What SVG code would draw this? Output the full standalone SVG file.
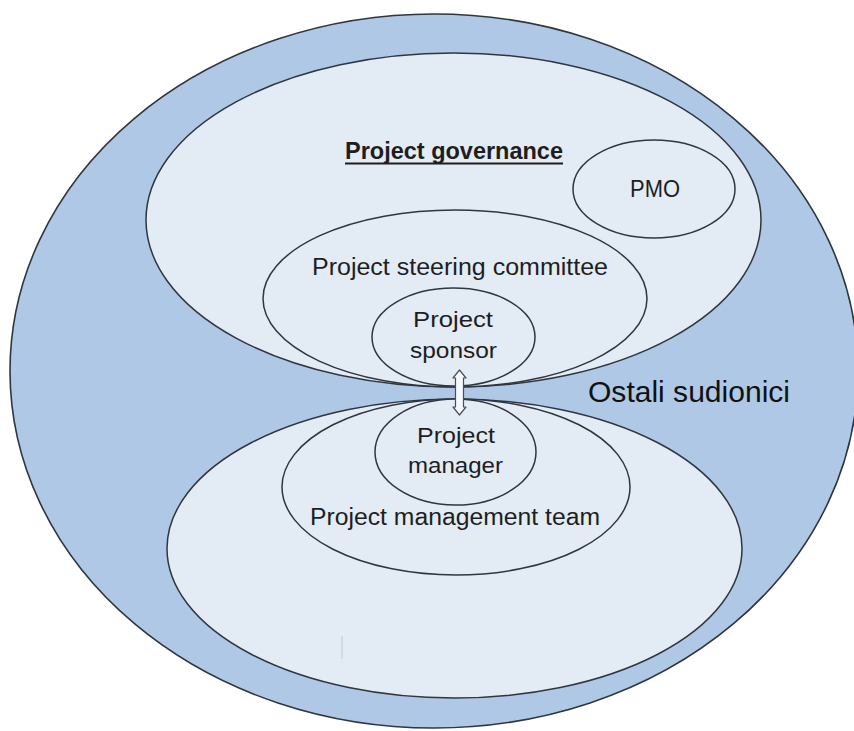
<svg xmlns="http://www.w3.org/2000/svg" width="854" height="731" viewBox="0 0 854 731">
<defs>
<style>
.ring{fill:#aec8e6;stroke:#2f3640;stroke-width:1.6}
.in{fill:#e3ebf5;stroke:#2f3640;stroke-width:1.5}
.t{font-family:"Liberation Sans Narrow","Liberation Sans",Arial,sans-serif;fill:#1e1e1e;text-anchor:middle}
.os{font-family:"Liberation Sans",Arial,sans-serif;font-size:29px;fill:#111}
</style>
</defs>
<rect width="854" height="731" fill="#ffffff"/>
<g id="ostali-sudionici">
<ellipse class="ring" cx="434" cy="371" rx="424" ry="357"/>
<text class="os" x="588" y="402" textLength="202" lengthAdjust="spacingAndGlyphs">Ostali sudionici</text>
</g>
<g id="project-governance">
<ellipse class="in" cx="453.5" cy="220" rx="307.5" ry="167"/>
<text class="t" x="454" y="159" font-size="23" font-weight="bold" textLength="218" lengthAdjust="spacingAndGlyphs">Project governance</text>
<line x1="345" y1="163.5" x2="563" y2="163.5" stroke="#1e1e1e" stroke-width="2"/>
</g>
<g id="project-management">
<ellipse class="in" cx="454.5" cy="548.5" rx="287.5" ry="149.5"/>
</g>
<g id="pmo">
<ellipse class="in" cx="654" cy="189" rx="81" ry="49"/>
<text class="t" x="655" y="197" font-size="24" textLength="50" lengthAdjust="spacingAndGlyphs">PMO</text>
</g>
<g id="steering-committee">
<ellipse class="in" cx="455" cy="298.5" rx="192" ry="88.5"/>
<text class="t" x="460" y="275" font-size="23" textLength="296" lengthAdjust="spacingAndGlyphs">Project steering committee</text>
</g>
<g id="project-sponsor">
<ellipse class="in" cx="453.5" cy="337" rx="81.5" ry="49"/>
<text class="t" x="453" y="327" font-size="22" textLength="80" lengthAdjust="spacingAndGlyphs">Project</text>
<text class="t" x="453.5" y="358" font-size="22" textLength="87" lengthAdjust="spacingAndGlyphs">sponsor</text>
</g>
<g id="management-team">
<ellipse class="in" cx="456" cy="487" rx="174" ry="88"/>
<text class="t" x="455" y="525" font-size="23" textLength="290" lengthAdjust="spacingAndGlyphs">Project management team</text>
</g>
<g id="project-manager">
<ellipse class="in" cx="455.5" cy="452" rx="80.5" ry="53"/>
<text class="t" x="456" y="443" font-size="22" textLength="78" lengthAdjust="spacingAndGlyphs">Project</text>
<text class="t" x="455.5" y="473" font-size="22" textLength="95" lengthAdjust="spacingAndGlyphs">manager</text>
</g>
<g id="connectors">
<path d="M459.5 370 L466 378 L463.5 378 L463.5 407 L466 407 L459.5 415 L453 407 L455.5 407 L455.5 378 L453 378 Z" fill="#f4f7fb" stroke="#4a4f57" stroke-width="1.2" stroke-linejoin="round"/>
</g>
<line x1="342" y1="636" x2="342" y2="659" stroke="#c4c9d0" stroke-width="1"/>
</svg>
